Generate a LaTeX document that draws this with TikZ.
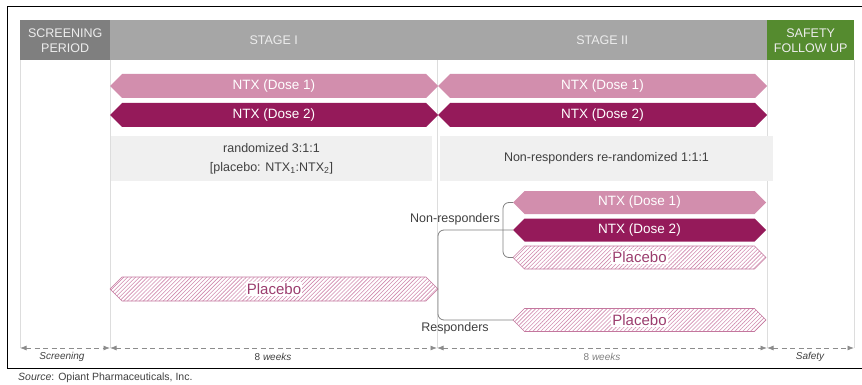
\documentclass[tikz,border=0pt]{standalone}
\usepackage{fontspec}
\setmainfont{Liberation Sans}
\usetikzlibrary{positioning, shapes.symbols, patterns.meta, arrows.meta, calc}

\definecolor{scrgray}{HTML}{7F7F7F}
\definecolor{stagegray}{HTML}{A6A6A6}
\definecolor{safegreen}{HTML}{558B2F}
\definecolor{headtext}{HTML}{EDEDED}
\definecolor{dose1}{HTML}{D28EAD}
\definecolor{dose2}{HTML}{951A5A}
\definecolor{hatch}{HTML}{D08AAE}
\definecolor{hatchline}{HTML}{C4779E}
\definecolor{plctext}{HTML}{9B3D6E}
\definecolor{boxgray}{HTML}{F0F0F0}
\definecolor{txt}{HTML}{404040}
\definecolor{rulegray}{HTML}{DDDDDD}
\definecolor{spangray}{HTML}{8C8C8C}

\tikzset{
  head/.style={fill=#1, text=headtext, font=\fontsize{12.5}{15}\selectfont, align=center,
    inner sep=0pt, anchor=north west, minimum height=40pt},
  arm/.style={signal, signal to=east and west, signal pointer angle=90, minimum height=24pt,
    inner sep=0pt, outer sep=0pt, text=white, font=\fontsize{13.5}{16}\selectfont},
  plcarm/.style={arm, draw=hatchline, line width=0.6pt,
    pattern={Lines[angle=45, distance=2.8pt, line width=0.6pt]}, pattern color=hatch},
  plclabel/.style={fill=white, inner sep=1pt, text=plctext, font=\fontsize{15}{17}\selectfont},
  note/.style={fill=boxgray, text=txt, align=center, inner sep=0pt, minimum height=45pt,
    font=\fontsize{12.5}{19}\selectfont},
  lbl/.style={text=txt, inner sep=0pt, font=\fontsize{12.5}{15}\selectfont},
  rule/.style={rulegray, line width=0.6pt},
  branch/.style={draw=gray, line width=0.8pt, rounded corners=6pt},
  span/.style={spangray, line width=0.8pt, dash pattern=on 5pt off 3.5pt,
    {Latex[length=6.5pt, width=5pt]}-{Latex[length=6.5pt, width=5pt]}},
  spanlbl/.style={text=txt, inner sep=0pt, font=\fontsize{10}{12}\selectfont\itshape}
}

\begin{document}
\begin{tikzpicture}[x=1pt, y=-1pt]
  \useasboundingbox (0,0) rectangle (862,385);

  % frame
  \draw[black, line width=0.8pt] (870,6) -- (7,6) -- (7,368) -- (870,368);

  % header
  \node[head=scrgray, minimum width=90pt] (scr) at (20,20) {SCREENING\\PERIOD};
  \node[head=stagegray, minimum width=327pt] (st1) at (110,20) {STAGE I};
  \node[head=stagegray, minimum width=330pt] (st2) at (437,20) {STAGE II};
  \node[head=safegreen, minimum width=87pt] (saf) at (767,20) {SAFETY\\FOLLOW UP};

  % period rules
  \foreach \x in {20,110,437,767,854}
    \draw[rule] (\x,60) -- (\x,348);

  % stage I arms
  \node[arm, fill=dose1, minimum width=328pt] (ntxA1) at (274,86) {NTX (Dose 1)};
  \node[arm, fill=dose2, minimum width=328pt] (ntxB1) at (274,115) {NTX (Dose 2)};
  \node[plcarm, minimum width=328pt] (plcA) at (274,289) {};
  \node[plclabel] (plcAt) at (plcA) {Placebo};

  % stage II arms
  \node[arm, fill=dose1, minimum width=329pt] (ntxA2) at (602.5,86) {NTX (Dose 1)};
  \node[arm, fill=dose2, minimum width=329pt] (ntxB2) at (602.5,115) {NTX (Dose 2)};

  % randomisation notes
  \node[note, minimum width=321pt] (rnd1) at (271.5,158.5)
    {randomized 3:1:1\\{}[placebo: NTX\textsubscript{1}:NTX\textsubscript{2}]};
  \node[note, minimum width=333pt] (rnd2) at (606.5,158.5)
    {Non-responders re-randomized 1:1:1};

  % re-randomised arms
  \node[arm, fill=dose1, minimum width=253pt, minimum height=23pt] (ntxA3) at (639.5,202.5) {NTX (Dose 1)};
  \node[arm, fill=dose2, minimum width=253pt, minimum height=23pt] (ntxB3) at (639.5,230) {NTX (Dose 2)};
  \node[plcarm, minimum width=253pt, minimum height=23pt] (plcB) at (639.5,257.5) {};
  \node[plclabel] (plcBt) at (plcB) {Placebo};
  \node[plcarm, minimum width=253pt, minimum height=23pt] (plcR) at (639.5,320) {};
  \node[plclabel] (plcRt) at (plcR) {Placebo};

  % branching
  \coordinate (fork) at (503,230);
  \draw[branch] (plcA.east) |- (ntxB3.west);
  \draw[branch] (fork) |- (ntxA3.west);
  \draw[branch] (fork) |- (plcB.west);
  \draw[branch] (plcA.east) |- (plcR.west);
  \node[lbl, above left=5pt and 3pt of fork] (nonr) {Non-responders};
  \node[lbl] (resp) at (455,328) {Responders};

  % time spans
  \foreach \x [count=\i from 0] in {20,110,437,767,854}
    \coordinate (t\i) at (\x,348);
  \draw[span] (t0) -- (t1);
  \draw[span] (t1) -- (t2);
  \draw[span] (t2) -- (t3);
  \draw[span] (t3) -- (t4);
  \node[spanlbl] (scrw) at (62,357) {Screening};
  \node[spanlbl] (wk1) at (273,357) {\upshape 8 \itshape weeks};
  \node[spanlbl, text=gray] (wk2) at (602,357) {\upshape 8 \itshape weeks};
  \node[spanlbl] (safw) at (810,357) {Safety};

  % source
  \node[anchor=west, inner sep=0pt, text=txt, font=\fontsize{10.5}{12}\selectfont] (src) at (18,378)
    {\textit{Source}: Opiant Pharmaceuticals, Inc.};
\end{tikzpicture}
\end{document}
